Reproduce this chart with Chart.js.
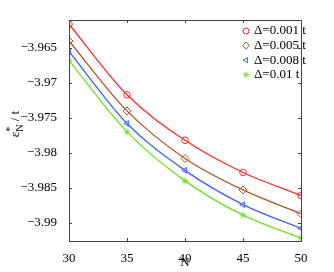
<!DOCTYPE html>
<html>
<head>
<meta charset="utf-8">
<script src="https://cdn.jsdelivr.net/npm/chart.js@4"></script>
<style>
  html, body { margin: 0; padding: 0; background: #fff; }
  #wrap { width: 334px; height: 272px; }
</style>
</head>
<body>
<div id="wrap"><canvas id="energy_chart" width="334" height="272"></canvas></div>
<script>
// values
const nValues = [30, 35, 40, 45, 50];
const gap001 = [-3.9616, -3.9717, -3.9782, -3.9828, -3.9861];
const gap005 = [-3.9640, -3.9740, -3.9808, -3.9853, -3.9887];
const gap008 = [-3.9655, -3.9758, -3.9825, -3.9874, -3.9908];
const gap010 = [-3.9668, -3.9770, -3.9840, -3.9889, -3.9922];
const seriesLabels = ['Δ=0.001 t', 'Δ=0.005 t', 'Δ=0.008 t', 'Δ=0.01 t'];
const xTicks = [30, 35, 40, 45, 50];
const yTicks = [-3.99, -3.985, -3.98, -3.975, -3.97, -3.965];

const serif = '"Liberation Serif", "DejaVu Serif", serif';
const colors = ['#ff2b2b', '#b8522a', '#3f63ff', '#6fe020'];
const styles = ['circle', 'rectRot', 'triangle', 'star'];
const rotations = [0, 0, -90, 0];
const allSeries = [gap001, gap005, gap008, gap010];

const toPoints = arr => arr.map((v, i) => ({x: nValues[i], y: v}));

let datasets = allSeries.map((s, i) => ({
  label: seriesLabels[i],
  data: toPoints(s),
  borderColor: colors[i],
  borderWidth: 1.3,
  backgroundColor: 'transparent',
  pointStyle: styles[i],
  pointRotation: rotations[i],
  pointRadius: i == 1 ? 4 : 3.3,
  pointBorderWidth: 1,
  pointBorderColor: colors[i],
  cubicInterpolationMode: 'monotone'
}));

let fmt = v => {
  let s = String(+Math.abs(v).toFixed(3));
  return (v < 0 ? '\u2212' : '') + s;
};

let ctx = document.getElementById('energy_chart').getContext('2d');
let energy_chart = new Chart(ctx, {
  type: 'line',
  data: { datasets: datasets },
  options: {
    responsive: false,
    animation: false,
    events: [],
    layout: { padding: { top: 20, right: 33, left: 0, bottom: 0 } },
    plugins: { legend: { display: false }, tooltip: { enabled: false } },
    scales: {
      x: {
        type: 'linear',
        min: 30, max: 50,
        grid: { display: false },
        border: { display: false },
        afterBuildTicks: s => { s.ticks = xTicks.map(v => ({value: v})); },
        afterFit: s => { s.height = 31; },
        ticks: { color: '#000', font: { family: serif, size: 13 }, padding: 2, maxRotation: 0 }
      },
      y: {
        min: -3.9926, max: -3.961,
        grid: { display: false },
        border: { display: false },
        afterBuildTicks: s => { s.ticks = yTicks.map(v => ({value: v})); },
        afterFit: s => { s.width = 69; },
        ticks: { color: '#000', font: { family: serif, size: 13 }, padding: 4, callback: v => fmt(v) }
      }
    }
  },
  plugins: [{
    id: 'frame',
    afterDraw: function (chart) {
      let c = chart.ctx, a = chart.chartArea;
      let sx = chart.scales.x, sy = chart.scales.y;
      c.save();
      c.strokeStyle = '#444';
      c.lineWidth = 1;
      c.strokeRect(Math.round(a.left) + 0.5, Math.round(a.top) + 0.5,
                   Math.round(a.right - a.left), Math.round(a.bottom - a.top));
      c.beginPath();
      xTicks.forEach(v => {
        let px = Math.round(sx.getPixelForValue(v)) + 0.5;
        c.moveTo(px, a.bottom); c.lineTo(px, a.bottom - 3);
        c.moveTo(px, a.top); c.lineTo(px, a.top + 3);
      });
      yTicks.forEach(v => {
        let py = Math.round(sy.getPixelForValue(v)) + 0.5;
        c.moveTo(a.left, py); c.lineTo(a.left + 3, py);
        c.moveTo(a.right, py); c.lineTo(a.right - 3, py);
      });
      c.stroke();

      // legend inside the plot
      c.font = '13px ' + serif;
      c.textBaseline = 'middle';
      c.fillStyle = '#000';
      seriesLabels.forEach((lab, i) => {
        let y = 31 + i * 14.6;
        c.strokeStyle = colors[i];
        c.fillStyle = 'transparent';
        c.lineWidth = 1;
        Chart.helpers.drawPoint(c, {
          pointStyle: styles[i], rotation: rotations[i],
          radius: i == 1 ? 3.5 : 3, borderWidth: 1
        }, 246, y);
        c.fillStyle = '#000';
        c.textAlign = 'left';
        c.fillText(lab, 254, y);
      });

      // axis titles
      c.textAlign = 'center';
      c.fillText('N', (a.left + a.right) / 2, 263);
      c.translate(16, 124);
      c.rotate(-Math.PI / 2);
      c.textAlign = 'left';
      let w1 = c.measureText('ε').width;
      c.font = '10px ' + serif;
      let wN = c.measureText('N').width;
      c.font = '13px ' + serif;
      let w2 = c.measureText(' / t').width;
      let start = -(w1 + wN + w2) / 2;
      c.fillText('ε', start, 0);
      c.font = '10px ' + serif;
      c.fillText('*', start + w1, -6);
      c.fillText('N', start + w1, 4);
      c.font = '13px ' + serif;
      c.fillText(' / t', start + w1 + wN, 0);
      c.restore();
    }
  }]
});
</script>
</body>
</html>
